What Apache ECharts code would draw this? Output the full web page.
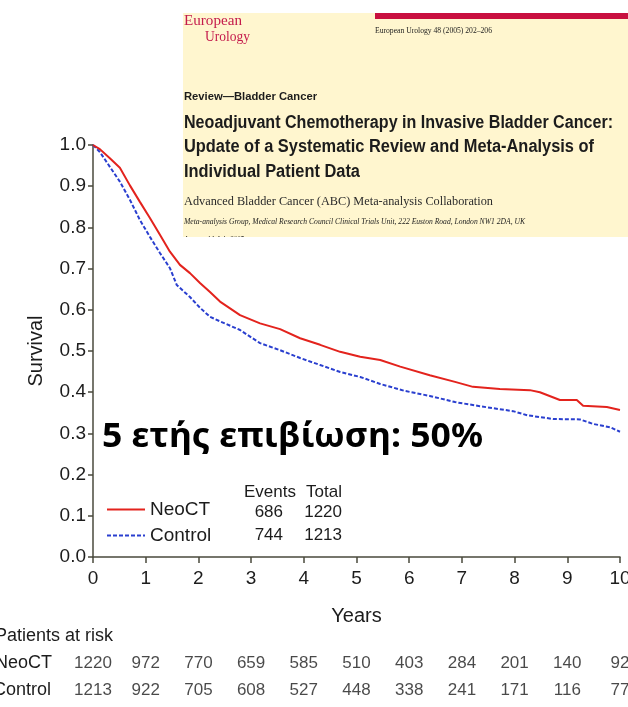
<!DOCTYPE html>
<html>
<head>
<meta charset="utf-8">
<script src="https://cdn.jsdelivr.net/npm/echarts@6/dist/echarts.min.js"></script>
<style>
  html, body { margin: 0; padding: 0; background: #ffffff; }
  #chart { width: 628px; height: 707px; }
</style>
</head>
<body>
<div id="chart"></div>
<script>
// Kaplan–Meier overall survival, neoadjuvant chemotherapy vs control
const groupNames = ['NeoCT', 'Control'];

const neoTime = [0, 0.13, 0.32, 0.51, 0.70, 0.89, 1.08, 1.27, 1.46, 1.65, 1.84, 2.03, 2.22, 2.41, 2.79,
  3.17, 3.55, 3.93, 4.31, 4.69, 5.07, 5.45, 5.83, 6.39, 6.87, 7.21, 7.72, 8.29, 8.48, 8.86, 9.18,
  9.30, 9.75, 10.0];
const neoSurv = [1.0, 0.99, 0.968, 0.945, 0.902, 0.862, 0.823, 0.782, 0.741, 0.709, 0.689, 0.665, 0.643,
  0.620, 0.587, 0.567, 0.553, 0.531, 0.515, 0.498, 0.486, 0.478, 0.462, 0.441, 0.425, 0.413, 0.408,
  0.405, 0.400, 0.381, 0.381, 0.367, 0.364, 0.357];

const ctrlTime = [0, 0.13, 0.32, 0.51, 0.70, 0.89, 1.08, 1.27, 1.46, 1.59, 1.84, 2.03, 2.22, 2.41, 2.79,
  3.17, 3.55, 3.93, 4.31, 4.69, 5.07, 5.45, 5.92, 6.39, 6.87, 7.34, 7.97, 8.24, 8.73, 9.24, 9.49,
  9.81, 10.0];
const ctrlSurv = [1.0, 0.983, 0.947, 0.911, 0.867, 0.818, 0.777, 0.738, 0.701, 0.660, 0.631, 0.605, 0.583,
  0.572, 0.551, 0.519, 0.502, 0.483, 0.466, 0.449, 0.437, 0.420, 0.403, 0.391, 0.376, 0.366, 0.354,
  0.344, 0.335, 0.334, 0.323, 0.315, 0.304];

// Patients at risk at each whole year
const riskYears = [0, 1, 2, 3, 4, 5, 6, 7, 8, 9, 10];
const atRiskNeo = [1220, 972, 770, 659, 585, 510, 403, 284, 201, 140, 92];
const atRiskCtrl = [1213, 922, 705, 608, 527, 448, 338, 241, 171, 116, 77];

// Events / totals shown next to the legend
const eventCounts = [686, 744];
const totalCounts = [1220, 1213];

// Article header text
const journalName = ['European', 'Urology'];
const citation = 'European Urology 48 (2005) 202\u2013206';
const section = 'Review\u2014Bladder Cancer';
const titleLines = [
  'Neoadjuvant Chemotherapy in Invasive Bladder Cancer:',
  'Update of a Systematic Review and Meta-Analysis of',
  'Individual Patient Data'
];
const authors = 'Advanced Bladder Cancer (ABC) Meta-analysis Collaboration';
const affiliation = 'Meta-analysis Group, Medical Research Council Clinical Trials Unit, 222 Euston Road, London NW1 2DA, UK';
const accepted = 'Accepted 1 July 2005';
const callout = '5 \u03b5\u03c4\u03ae\u03c2 \u03b5\u03c0\u03b9\u03b2\u03af\u03c9\u03c3\u03b7: 50%';

const SANS = '"Liberation Sans", Arial, Helvetica, sans-serif';
const SERIF = '"Liberation Serif", "Times New Roman", serif';
const INK = '#1c1c1c';

// horizontal scale needed for a string to span a given width
const measureCtx = document.createElement('canvas').getContext('2d');
function fitScale(str, weight, style, size, family, width) {
  measureCtx.font = `${style} ${weight} ${size}px ${family}`;
  return width / measureCtx.measureText(str).width;
}
function headerText(str, x, y, opts) {
  const o = Object.assign({ weight: 'normal', style: 'normal', size: 12, family: SANS, fill: INK }, opts);
  return {
    type: 'text', x: x, y: y, z: 110,
    scaleX: o.width ? fitScale(str, o.weight, o.style, o.size, o.family, o.width) : 1,
    style: {
      text: str, fontSize: o.size, fontFamily: o.family, fontWeight: o.weight, fontStyle: o.style,
      fill: o.fill, align: 'left', verticalAlign: 'middle'
    }
  };
}
function numText(str, x, y) {
  return { type: 'text', x: x, y: y, z: 110,
    style: { text: String(str), fontSize: 17, fontFamily: SANS, fill: INK, align: 'right', verticalAlign: 'middle' } };
}

const chart = echarts.init(document.getElementById('chart'), null, { renderer: 'canvas' });

const neoData = neoTime.map((t, i) => [t, neoSurv[i]]);
const ctrlData = ctrlTime.map((t, i) => [t, ctrlSurv[i]]);
const riskData = [];
riskYears.forEach((yr, i) => {
  riskData.push([yr, groupNames[0], atRiskNeo[i]]);
  riskData.push([yr, groupNames[1], atRiskCtrl[i]]);
});

const axisColor = '#4a4a3c';
const RED = '#e3231d';
const BLUE = '#2a3fcf';

const graphics = [
  // journal header panel
  { type: 'rect', z: 100, shape: { x: 183, y: 13, width: 445, height: 224 }, style: { fill: '#fff6cf' } },
  { type: 'rect', z: 101, shape: { x: 375, y: 13, width: 253, height: 6 }, style: { fill: '#c8103f' } },
  headerText(journalName[0], 184, 21, { family: SERIF, size: 15, fill: '#c41a4b', width: 58 }),
  headerText(journalName[1], 205, 37, { family: SERIF, size: 15, fill: '#c41a4b', width: 45 }),
  headerText(citation, 375, 31, { family: SERIF, size: 8, width: 117 }),
  headerText(section, 184, 97, { weight: 'bold', size: 11, width: 133 }),
  headerText(titleLines[0], 184, 123, { weight: 'bold', size: 18, width: 429 }),
  headerText(titleLines[1], 184, 147, { weight: 'bold', size: 18, width: 410 }),
  headerText(titleLines[2], 184, 172, { weight: 'bold', size: 18, width: 176 }),
  headerText(authors, 184, 202, { family: SERIF, size: 13, fill: '#2a2a2a', width: 309 }),
  headerText(affiliation, 184, 222, { family: SERIF, style: 'italic', size: 7.5, width: 341 }),
  headerText(accepted, 184, 240, { family: SERIF, style: 'italic', size: 7.5, width: 60 }),
  { type: 'rect', z: 111, shape: { x: 183, y: 237, width: 120, height: 8 }, style: { fill: '#ffffff' } },

  // five-year survival callout
  headerText(callout, 102, 437, { weight: 'bold', size: 34, family: '"Noto Sans", "Open Sans", sans-serif', fill: '#000000', width: 381 }),

  // events / totals beside the legend
  headerText('Events', 244, 492, { size: 17 }),
  headerText('Total', 306, 492, { size: 17 }),
  numText(eventCounts[0], 283, 512),
  numText(eventCounts[1], 283, 535),
  numText(totalCounts[0], 342, 512),
  numText(totalCounts[1], 342, 535),

  // risk table headings
  headerText('Patients at risk', -5, 636, { size: 18 }),
  headerText(groupNames[0], -5, 663, { size: 18 }),
  headerText(groupNames[1], -7, 690, { size: 18 })
];

chart.setOption({
  animation: false,
  backgroundColor: '#ffffff',
  textStyle: { fontFamily: SANS },
  legend: {
    orient: 'vertical', left: 106, top: 500, padding: 0,
    itemWidth: 38, itemHeight: 12, itemGap: 7,
    data: groupNames,
    itemStyle: { opacity: 0 },
    textStyle: { fontSize: 19, color: INK, fontFamily: SANS }
  },
  grid: [
    { left: 93, right: 8, top: 145, bottom: 150, containLabel: false, outerBoundsMode: 'none' },
    { left: 93, right: 8, top: 650, height: 54, containLabel: false, outerBoundsMode: 'none' }
  ],
  xAxis: [
    {
      type: 'value', gridIndex: 0, min: 0, max: 10, interval: 1,
      name: 'Years', nameLocation: 'middle', nameGap: 49,
      nameTextStyle: { fontSize: 20, color: INK, fontFamily: SANS },
      axisLine: { show: true, onZero: false, lineStyle: { color: axisColor, width: 1.5 } },
      axisTick: { show: true, length: 6, lineStyle: { color: axisColor, width: 1.5 } },
      axisLabel: { fontSize: 19, color: INK, margin: 12, fontFamily: SANS },
      splitLine: { show: false }
    },
    { type: 'value', gridIndex: 1, min: 0, max: 10, show: false }
  ],
  yAxis: [
    {
      type: 'value', gridIndex: 0, min: 0, max: 1, interval: 0.1,
      name: 'Survival', nameLocation: 'middle', nameGap: 47,
      nameTextStyle: { fontSize: 20, color: INK, fontFamily: SANS },
      axisLine: { show: true, lineStyle: { color: axisColor, width: 1.5 } },
      axisTick: { show: true, length: 5, lineStyle: { color: axisColor, width: 1.5 } },
      axisLabel: { fontSize: 19, color: INK, margin: 7, fontFamily: SANS, formatter: v => v.toFixed(1) },
      splitLine: { show: false }
    },
    { type: 'category', gridIndex: 1, data: groupNames, inverse: true, show: false }
  ],
  series: [
    {
      name: groupNames[0], type: 'line', data: neoData, symbol: 'none', smooth: false,
      lineStyle: { color: RED, width: 2 }, itemStyle: { color: RED }, z: 3
    },
    {
      name: groupNames[1], type: 'line', data: ctrlData, symbol: 'none', smooth: false,
      lineStyle: { color: BLUE, width: 2, type: [4, 2] }, itemStyle: { color: BLUE }, z: 2
    },
    {
      name: 'at risk', type: 'scatter', xAxisIndex: 1, yAxisIndex: 1, data: riskData,
      symbolSize: 1, itemStyle: { color: 'rgba(0,0,0,0)' }, silent: true,
      label: { show: true, position: 'inside', formatter: p => String(p.value[2]), fontSize: 17, color: INK, fontFamily: SANS }
    }
  ],
  graphic: graphics
});
</script>
</body>
</html>
